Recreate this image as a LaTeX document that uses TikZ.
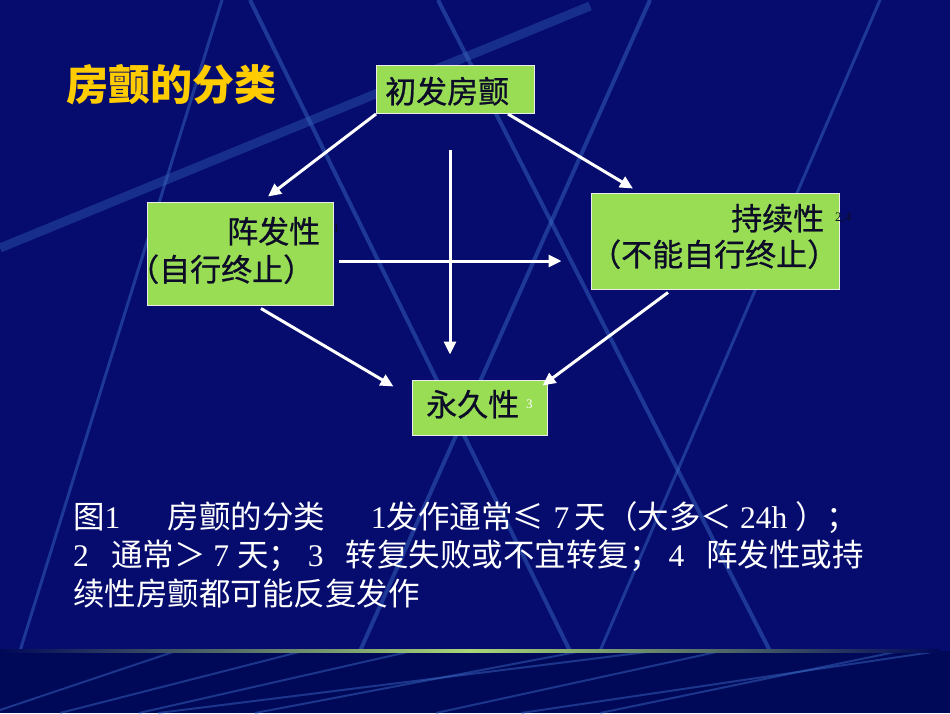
\documentclass[tikz,border=0pt]{standalone}
\usepackage{fontspec}
\usepackage{xcolor}
\usepackage{tikz}
\usetikzlibrary{arrows.meta}

\newfontfamily\cjk{Noto Sans CJK SC}
\newfontfamily\cjkbox[FakeBold=0.8]{Noto Sans CJK SC}
\newfontfamily\numfont{Liberation Serif}

\definecolor{slideblue}{RGB}{5,12,110}
\definecolor{slidedark}{RGB}{0,8,88}
\definecolor{streak}{RGB}{60,110,200}
\definecolor{boxgreen}{RGB}{153,221,85}
\definecolor{inkdark}{RGB}{12,12,40}
\definecolor{titleyellow}{RGB}{255,204,0}
\definecolor{barlight}{RGB}{170,215,120}

\tikzset{
  box/.style={draw=white!85!gray, line width=1pt, fill=boxgreen, rectangle, inner sep=0pt},
  boxtext/.style={inner sep=0pt, anchor=base west, text=inkdark, font=\cjkbox\fontsize{31}{31}\selectfont},
  note/.style={inner sep=0pt, anchor=base west, text=white, font=\cjk\fontsize{31.5}{31.5}\selectfont},
  supnum/.style={inner sep=0pt, anchor=base west, font=\numfont\fontsize{13}{13}\selectfont},
  flow/.style={->, white, line width=3pt},
  streakline/.style={streak, line width=3pt, opacity=0.45},
}

\begin{document}
\begin{tikzpicture}[x=1pt, y=-1pt, >={Triangle[width=12pt,length=13pt]}]
        % slide background
        \useasboundingbox (0,0) rectangle (950,713);
        \fill[slideblue] (0,0) rectangle (950,713);
        \fill[slidedark] (0,651) rectangle (950,713);
        \draw[streakline, line width=9pt, opacity=0.35] (0,248) -- (590,6);
        \draw[streakline] (222,0) -- (20,651);
        \draw[streakline, line width=4pt] (250,0) -- (570,651);
        \draw[streakline, line width=4pt] (650,0) -- (360,651);
        \draw[streakline, line width=4pt] (438,0) -- (770,651);
        \draw[streakline] (880,0) -- (600,651);
        \draw[streakline, line width=2pt] (0,710) -- (176,651);
        \draw[streakline, line width=2pt] (60,713) -- (303,651);
        \draw[streakline, line width=2pt] (139,713) -- (412,651);
        \draw[streakline, line width=2pt] (158,713) -- (655,651);
        \draw[streakline, line width=2pt] (255,713) -- (582,651);
        \draw[streakline, line width=2pt] (436,713) -- (721,651);
        \draw[streakline, line width=2pt] (521,713) -- (939,651);
        \draw[streakline, line width=2pt] (600,713) -- (900,651);
        \shade[left color=slidedark, right color=slidedark, middle color=barlight] (0,649) rectangle (940,652);

        % title
        \node[inner sep=0pt, anchor=base west, text=titleyellow, font=\cjk\bfseries\fontsize{42}{42}\selectfont] (title) at (66,100) {房颤的分类};

        % boxes
        \node[box, minimum width=158pt, minimum height=48pt] (onset) at (455.5,89.5) {};
        \node[box, minimum width=186pt, minimum height=103pt] (parox) at (240,253.5) {};
        \node[box, minimum width=248pt, minimum height=96pt] (persist) at (715,241) {};
        \node[box, minimum width=135pt, minimum height=55pt] (perm) at (479.5,407.5) {};

        \node[boxtext] (onsettxt) at (385,103) {初发房颤};
        \node[boxtext] (paroxtxt) at (227,243) {阵发性};
        \node[supnum, text=inkdark] (paroxsup) at (333,232) {1};
        \node[boxtext] (paroxnote) at (128,281) {（自行终止）};
        \node[boxtext] (persisttxt) at (731,230) {持续性};
        \node[supnum, text=inkdark] (persistsup) at (835,221) {2,4};
        \node[boxtext] (persistnote) at (590,266) {（不能自行终止）};
        \node[boxtext] (permtxt) at (426,416) {永久性};
        \node[supnum, text=white] (permsup) at (526,408) {3};

        % arrows
        \draw[flow] (onset.south west) -- ([xshift=28pt,yshift=5pt]parox.north);
        \draw[flow] ([xshift=-27pt]onset.south east) -- ([xshift=-82pt,yshift=4pt]persist.north);
        \draw[flow] ([xshift=-5.5pt,yshift=-36pt]onset.south) -- ([xshift=-29.5pt,yshift=25pt]perm.north);
        \draw[flow] ([xshift=5pt,yshift=-7.5pt]parox.east) -- ([xshift=-29pt,yshift=-20pt]persist.west);
        \draw[flow] ([xshift=21pt,yshift=-3pt]parox.south) -- ([xshift=-18pt,yshift=-7pt]perm.north west);
        \draw[flow] ([xshift=-47pt,yshift=-3pt]persist.south) -- ([xshift=-5pt,yshift=-6pt]perm.north east);

        % caption
        \node[note] (line1) at (73,528) {图{\numfont 1}\hspace{1.5em}房颤的分类\hspace{1.45em}{\numfont 1}发作通常≤\hspace{0.3em}{\numfont 7}\hspace{0.17em}天（大多＜{\numfont\ 24h\ }）；};
        \node[note] (line2) at (73,566) {{\numfont 2}\hspace{0.7em}通常＞{\numfont\ 7\ }天；{\numfont\ 3}\hspace{0.7em}转复失败或不宜转复；{\numfont\ 4}\hspace{0.7em}阵发性或持};
        \node[note] (line3) at (73,605) {续性房颤都可能反复发作};
\end{tikzpicture}
\end{document}
